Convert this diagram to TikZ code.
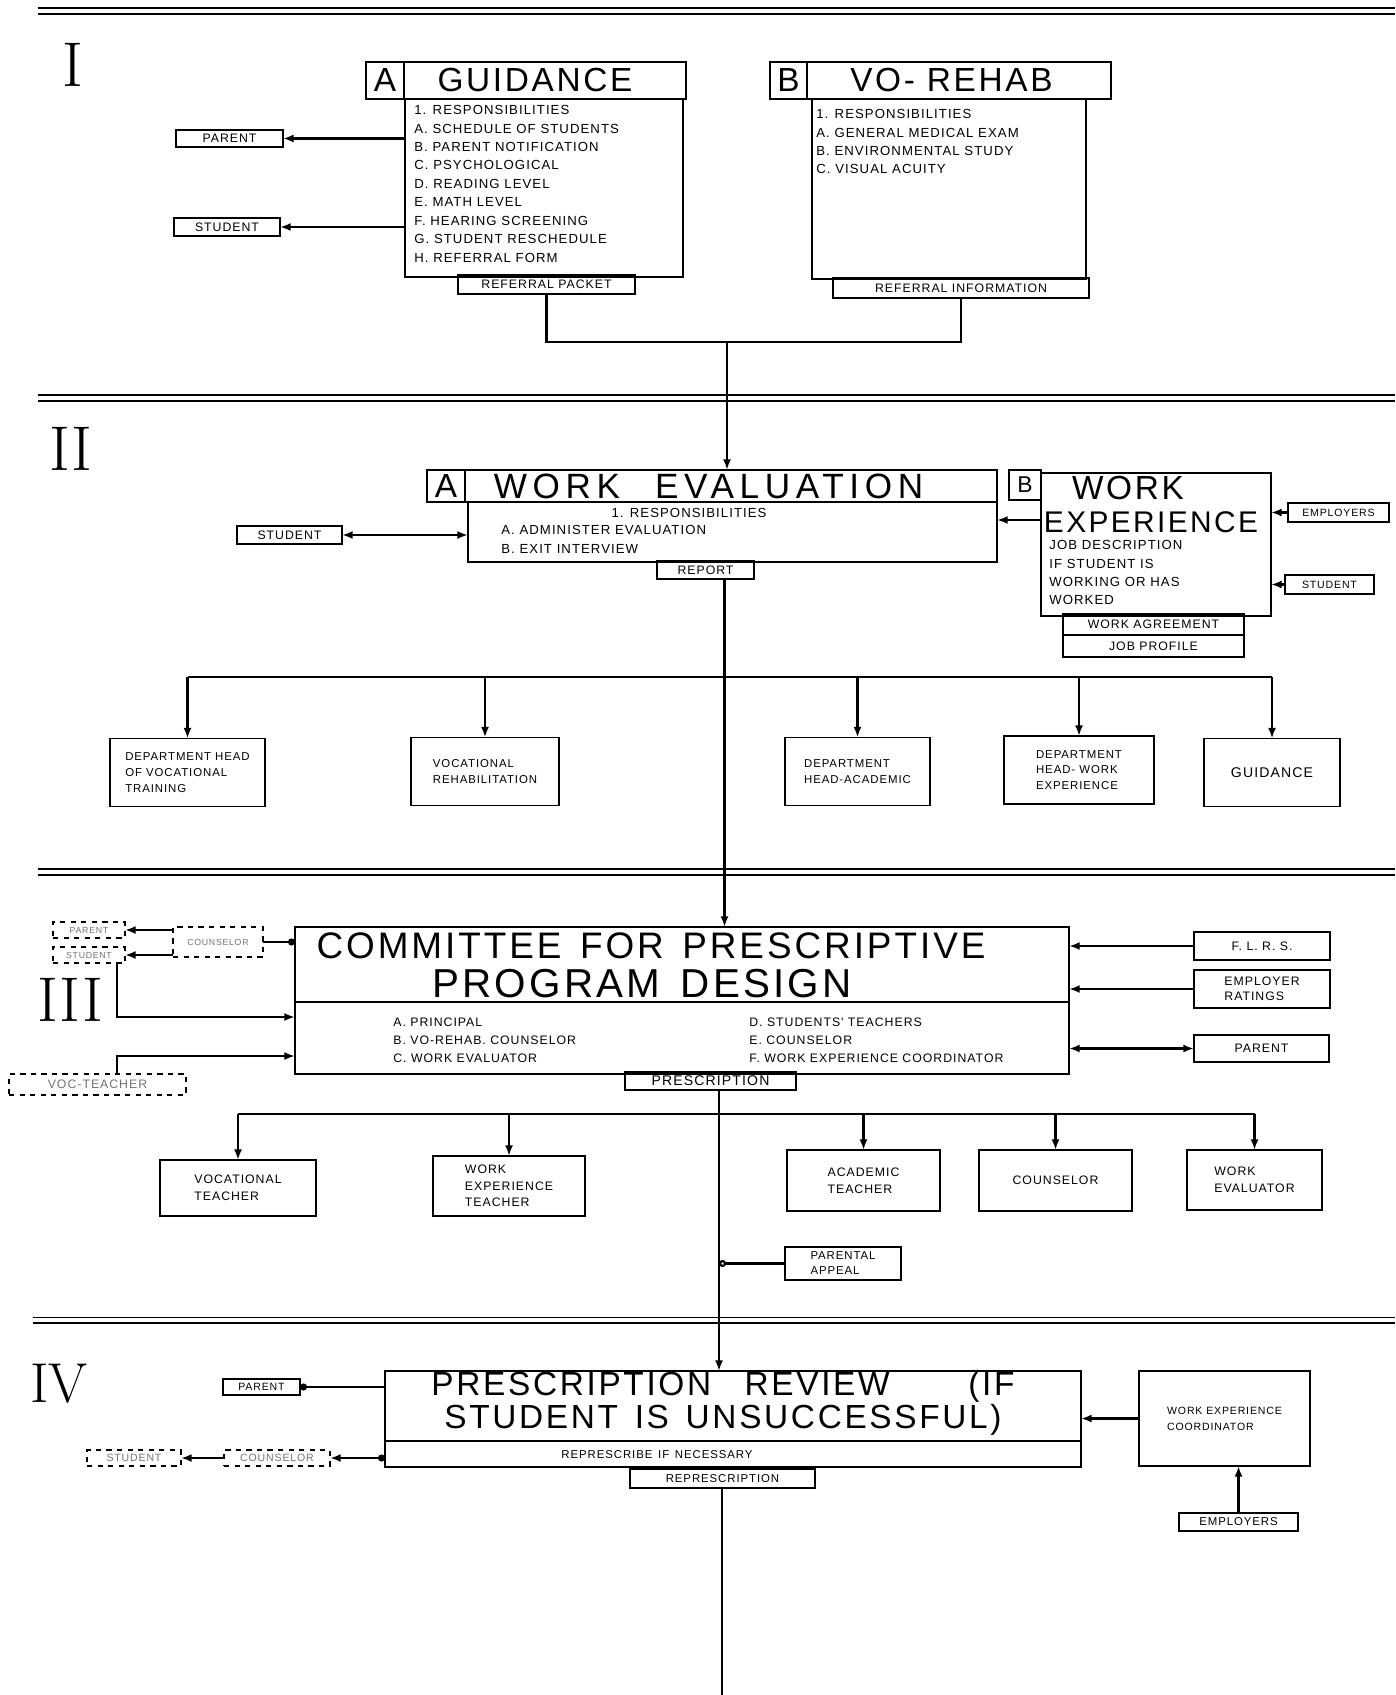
\documentclass[tikz,border=0pt]{standalone}
\usepackage{fontspec}
\newfontfamily\hand[LetterSpace=8]{Liberation Sans}
\newfontfamily\handwide[LetterSpace=16]{Liberation Sans}
\usetikzlibrary{arrows.meta,positioning}

\tikzset{
  box/.style={draw, line width=0.9pt, outer sep=0pt, inner sep=2pt, align=left,
    font=\hand\fontsize{7}{8.5}\selectfont},
  dbox/.style={box, dashed, text=black!55},
  lbl/.style={inner sep=0pt, anchor=north west, align=left,
    font=\hand\fontsize{7.5}{10.5}\selectfont},
  hcell/.style={box, anchor=north west, align=center, font=\hand\fontsize{19}{20}\selectfont},
  big/.style={inner sep=0pt, font=\hand\fontsize{19}{20}\selectfont},
  roman/.style={inner sep=0pt, font=\fontsize{36}{36}\selectfont},
  line/.style={line width=1.2pt},
  arr/.style={line, -{Latex[length=6pt,width=4.5pt]}},
  sep/.style={line width=0.7pt, double, double distance=2.6pt},
}

\begin{document}
\begin{tikzpicture}
\useasboundingbox (0,0) rectangle (27.9,-33.9);

% section separators
\draw[sep] (0.76,-0.22) -- (27.9,-0.22);
\draw[sep] (0.76,-7.96) -- (27.9,-7.96);
\draw[sep] (0.76,-17.44) -- (27.9,-17.44);
\draw[sep] (0.65,-26.4) -- (27.9,-26.4);

\node[roman] (r1) at (1.46,-1.3) {I};
\node[roman] (r2) at (1.42,-8.98) {II};
\node[roman] (r3) at (1.4,-20.0) {III};
\node[roman, font=\fontsize{32}{32}\selectfont] (r4) at (1.18,-27.68) {IV};

% ---- I ----
\node[hcell, minimum width=0.76cm, minimum height=0.74cm] (ga) at (7.32,-1.24) {A};
\node[hcell, minimum width=5.64cm, minimum height=0.74cm] (gt) at (ga.north east) {\hspace*{-0.4cm}GUIDANCE};
\node[box, anchor=north west, minimum width=5.56cm, minimum height=3.56cm] (gb) at (8.1,-1.98) {};
\node[lbl] (gtext) at (8.28,-2.1) {1. RESPONSIBILITIES\\A. SCHEDULE OF STUDENTS\\B. PARENT NOTIFICATION\\C. PSYCHOLOGICAL\\D. READING LEVEL\\E. MATH LEVEL\\F. HEARING SCREENING\\G. STUDENT RESCHEDULE\\H. REFERRAL FORM};
\node[box, minimum width=3.54cm, minimum height=0.38cm, align=center] (refpack) at (10.93,-5.69) {REFERRAL PACKET};

\node[box, minimum width=2.14cm, minimum height=0.34cm] (parent1) at (4.59,-2.77) {PARENT};
\node[box, minimum width=2.12cm, minimum height=0.36cm] (student1) at (4.54,-4.54) {STUDENT};
\draw[arr] (gb.west |- parent1) -- (parent1.east);
\draw[arr] (gb.west |- student1) -- (student1.east);

\node[hcell, minimum width=0.74cm, minimum height=0.74cm] (vb) at (15.4,-1.24) {B};
\node[hcell, minimum width=6.08cm, minimum height=0.74cm] (vt) at (vb.north east) {\hspace*{-0.3cm}VO- REHAB};
\node[box, anchor=north west, minimum width=5.48cm, minimum height=3.6cm] (vbody) at (16.24,-1.98) {};
\node[lbl] (vtext) at (16.32,-2.18) {1. RESPONSIBILITIES\\A. GENERAL MEDICAL EXAM\\B. ENVIRONMENTAL STUDY\\C. VISUAL ACUITY};
\node[box, minimum width=5.12cm, minimum height=0.4cm, align=center] (refinfo) at (19.22,-5.76) {REFERRAL INFORMATION};

\coordinate (join1) at (14.54,-6.84);
\draw[line] (refpack.south) |- (join1) -| (refinfo.south);

% ---- II ----
\node[hcell, minimum width=0.76cm, minimum height=0.64cm] (wa) at (8.54,-9.4) {A};
\node[hcell, minimum width=10.64cm, minimum height=0.64cm, font=\handwide\fontsize{20}{20}\selectfont] (wt) at (wa.north east) {\hspace*{-0.9cm}WORK\quad EVALUATION};
\node[box, anchor=north west, minimum width=10.58cm, minimum height=1.2cm] (wbody) at (9.36,-10.04) {};
\node[lbl, anchor=center] (wresp) at (13.78,-10.26) {1. RESPONSIBILITIES};
\node[lbl] (wtext) at (10.02,-10.5) {A. ADMINISTER EVALUATION\\B. EXIT INTERVIEW};
\node[box, minimum width=1.94cm, minimum height=0.36cm, align=center] (report) at (14.11,-11.4) {REPORT};
\draw[arr] (join1) -- (join1 |- wt.north);

\node[box, minimum width=2.1cm, minimum height=0.36cm] (student2) at (5.79,-10.7) {STUDENT};
\draw[line, {Latex[length=6pt,width=4.5pt]}-{Latex[length=6pt,width=4.5pt]}] (student2.east) -- (wbody.west |- student2);

\node[hcell, minimum width=0.64cm, minimum height=0.6cm, font=\hand\fontsize{13}{14}\selectfont] (wxb) at (20.18,-9.4) {B};
\node[box, anchor=north west, minimum width=4.6cm, minimum height=2.86cm] (wxbox) at (20.82,-9.46) {};
\node[big] (wxt1) at (22.56,-9.76) {WORK};
\node[big, font=\hand\fontsize{17}{18}\selectfont] (wxt2) at (23.02,-10.44) {EXPERIENCE};
\node[lbl] (wxtext) at (20.98,-10.8) {JOB DESCRIPTION\\IF STUDENT IS\\WORKING OR HAS\\WORKED};
\node[box, minimum width=3.62cm, minimum height=0.42cm, align=center] (wagree) at (23.07,-12.49) {WORK AGREEMENT};
\node[box, minimum width=3.62cm, minimum height=0.44cm, align=center] (jobprof) at (23.07,-12.92) {JOB PROFILE};

\node[box, minimum width=2.02cm, minimum height=0.38cm, font=\hand\fontsize{6}{7}\selectfont] (employ2) at (26.77,-10.25) {EMPLOYERS};
\node[box, minimum width=1.78cm, minimum height=0.38cm, font=\hand\fontsize{6}{7}\selectfont] (student3) at (26.59,-11.69) {STUDENT};
\draw[arr] (employ2.west) -- (wxbox.east |- employ2);
\draw[arr] (student3.west) -- (wxbox.east |- student3);
\coordinate (wxin) at (20.82,-10.4);
\draw[arr] (wxin) -- (wxin -| wbody.east);

\coordinate (trunk2) at (14.49,-13.54);
\tikzset{sbox/.style={box, minimum height=1.36cm, font=\hand\fontsize{6.5}{9}\selectfont}}
\node[sbox, minimum width=3.1cm] (dvoc) at (3.75,-15.45) {DEPARTMENT HEAD\\OF VOCATIONAL\\TRAINING};
\node[sbox, minimum width=2.96cm] (vrehab) at (9.7,-15.43) {VOCATIONAL\\REHABILITATION};
\node[sbox, minimum width=2.9cm] (dacad) at (17.15,-15.43) {DEPARTMENT\\HEAD-ACADEMIC};
\node[sbox, minimum width=3.0cm] (dwork) at (21.58,-15.4) {DEPARTMENT\\HEAD- WORK\\EXPERIENCE};
\node[sbox, minimum width=2.72cm, font=\hand\fontsize{8}{9}\selectfont] (dguid) at (25.44,-15.45) {GUIDANCE};
\draw[line] (dvoc.north |- trunk2) -- (dguid.north |- trunk2);
\foreach \b in {dvoc,vrehab,dacad,dwork,dguid}
  \draw[arr] (\b.north |- trunk2) -- (\b.north);

% ---- III ----
\node[box, anchor=north west, minimum width=15.48cm, minimum height=2.94cm] (comm) at (5.9,-18.54) {};
\draw[line width=0.9pt] (comm.west |- 0,-20.04) -- (comm.east |- 0,-20.04);
\node[big, font=\hand\fontsize{21}{22}\selectfont] (ct1) at (13.02,-18.92) {COMMITTEE\enspace FOR\enspace PRESCRIPTIVE};
\node[big, font=\hand\fontsize{23}{24}\selectfont] (ct2) at (12.84,-19.68) {PROGRAM\enspace DESIGN};
\node[lbl, font=\hand\fontsize{7}{10.2}\selectfont] (cleft) at (7.86,-20.36) {A. PRINCIPAL\\B. VO-REHAB. COUNSELOR\\C. WORK EVALUATOR};
\node[lbl, font=\hand\fontsize{7}{10.2}\selectfont] (cright) at (14.98,-20.36) {D. STUDENTS' TEACHERS\\E. COUNSELOR\\F. WORK EXPERIENCE COORDINATOR};
\node[box, minimum width=3.42cm, minimum height=0.36cm, align=center, font=\hand\fontsize{8}{9}\selectfont] (prescr) at (14.21,-21.62) {PRESCRIPTION};
\draw[arr] (report.south -| trunk2) -- (trunk2 |- comm.north);

\node[dbox, minimum width=1.44cm, minimum height=0.32cm, font=\hand\fontsize{5}{6}\selectfont] (parentc) at (1.78,-18.6) {PARENT};
\node[dbox, minimum width=1.44cm, minimum height=0.32cm, font=\hand\fontsize{5}{6}\selectfont] (studentc) at (1.78,-19.1) {STUDENT};
\node[dbox, minimum width=1.8cm, minimum height=0.6cm, font=\hand\fontsize{5}{6}\selectfont] (counsc) at (4.36,-18.84) {COUNSELOR};
\draw[arr] (counsc.west |- parentc) -- (parentc.east);
\draw[arr] (counsc.west |- studentc) -- (studentc.east);
\draw[line, {Circle[length=4pt]}-] (comm.west |- counsc) -- (counsc.east);
\coordinate (sbend) at (2.34,-20.34);
\draw[arr] (studentc.south -| sbend) |- (comm.west |- sbend);
\node[dbox, minimum width=3.54cm, minimum height=0.42cm, font=\hand\fontsize{7}{8}\selectfont] (vocbox) at (1.95,-21.69) {VOC-TEACHER};
\coordinate (vbend) at (2.34,-21.12);
\draw[arr] (vocbox.north -| vbend) |- (comm.west |- vbend);

\node[box, minimum width=2.72cm, minimum height=0.56cm] (flrs) at (25.24,-18.92) {F. L. R. S.};
\node[box, minimum width=2.72cm, minimum height=0.76cm] (empr) at (25.24,-19.78) {EMPLOYER\\RATINGS};
\node[box, minimum width=2.7cm, minimum height=0.54cm] (parent3) at (25.23,-20.97) {PARENT};
\draw[arr] (flrs.west) -- (comm.east |- flrs);
\draw[arr] (empr.west) -- (comm.east |- empr);
\draw[line, {Latex[length=6pt,width=4.5pt]}-{Latex[length=6pt,width=4.5pt]}] (comm.east |- parent3) -- (parent3.west);

\coordinate (trunk3) at (14.38,-22.28);
\tikzset{tbox/.style={box, font=\hand\fontsize{7}{9.5}\selectfont}}
\node[tbox, minimum width=3.12cm, minimum height=1.12cm] (vteach) at (4.76,-23.76) {VOCATIONAL\\TEACHER};
\node[tbox, minimum width=3.04cm, minimum height=1.2cm] (wteach) at (10.18,-23.72) {WORK\\EXPERIENCE\\TEACHER};
\node[tbox, minimum width=3.06cm, minimum height=1.22cm] (ateach) at (17.27,-23.61) {ACADEMIC\\TEACHER};
\node[tbox, minimum width=3.06cm, minimum height=1.22cm] (couns) at (21.11,-23.61) {COUNSELOR};
\node[tbox, minimum width=2.7cm, minimum height=1.2cm] (weval) at (25.09,-23.6) {WORK\\EVALUATOR};
\draw[line] (vteach.north |- trunk3) -- (weval.north |- trunk3);
\foreach \b in {vteach,wteach,ateach,couns,weval}
  \draw[arr] (\b.north |- trunk3) -- (\b.north);

\node[box, minimum width=2.32cm, minimum height=0.66cm, font=\hand\fontsize{6.5}{8.5}\selectfont] (pappeal) at (16.86,-25.27) {PARENTAL\\APPEAL};
\draw[line, {Circle[open,length=4pt]}-] (trunk3 |- pappeal) -- (pappeal.west);

% ---- IV ----
\node[box, anchor=north west, minimum width=13.92cm, minimum height=1.92cm] (prrev) at (7.7,-27.42) {};
\draw[line width=0.9pt] (prrev.west |- 0,-28.82) -- (prrev.east |- 0,-28.82);
\node[big, align=center, font=\hand\fontsize{19}{17}\selectfont] (ptitle) at (14.46,-28.06) {PRESCRIPTION\quad REVIEW\qquad\ (IF\\STUDENT\enspace IS\enspace UNSUCCESSFUL)};
\node[lbl, anchor=center, font=\hand\fontsize{6.5}{7}\selectfont] (psub) at (13.14,-29.1) {REPRESCRIBE\enspace IF\enspace NECESSARY};
\node[box, minimum width=3.7cm, minimum height=0.38cm, align=center, font=\hand\fontsize{6.5}{7}\selectfont] (represcr) at (14.45,-29.57) {REPRESCRIPTION};
\draw[arr] (prescr.south -| trunk3) -- (trunk3 |- prrev.north);

\node[box, minimum width=1.54cm, minimum height=0.32cm, font=\hand\fontsize{6}{7}\selectfont] (parent4) at (5.23,-27.74) {PARENT};
\draw[line, {Circle[length=4pt]}-] (parent4.east) -- (prrev.west |- parent4);
\node[dbox, minimum width=1.88cm, minimum height=0.32cm, font=\hand\fontsize{6}{7}\selectfont] (studc4) at (2.68,-29.16) {STUDENT};
\node[dbox, minimum width=2.12cm, minimum height=0.32cm, font=\hand\fontsize{6}{7}\selectfont] (counsc4) at (5.54,-29.16) {COUNSELOR};
\draw[line, {Circle[length=4pt]}-{Latex[length=6pt,width=4.5pt]}] (prrev.west |- counsc4) -- (counsc4.east);
\draw[arr] (counsc4.west) -- (studc4.east);

\node[box, minimum width=3.42cm, minimum height=1.9cm, font=\hand\fontsize{6}{9}\selectfont] (wec) at (24.49,-28.37) {WORK EXPERIENCE\\COORDINATOR};
\draw[arr] (wec.west) -- (prrev.east |- wec.west);
\node[box, minimum width=2.38cm, minimum height=0.36cm, font=\hand\fontsize{6.5}{7}\selectfont] (employ4) at (24.77,-30.44) {EMPLOYERS};
\draw[arr] (employ4.north) -- (employ4.north |- wec.south);

\coordinate (bottom) at (14.44,-33.9);
\draw[line width=1.5pt] (represcr.south -| bottom) -- (bottom);

\end{tikzpicture}
\end{document}
